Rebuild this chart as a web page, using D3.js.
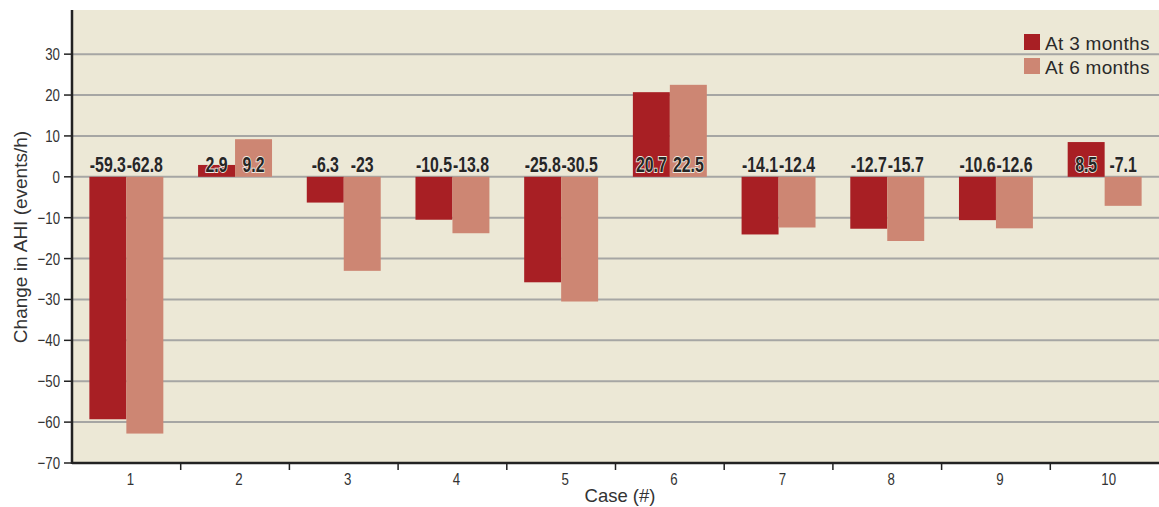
<!DOCTYPE html>
<html>
<head>
<meta charset="utf-8">
<script src="https://cdn.jsdelivr.net/npm/d3@7"></script>
<style>
  html, body { margin: 0; padding: 0; background: #ffffff; }
  svg { display: block; }
</style>
</head>
<body>
<svg id="chart" width="1159" height="507"></svg>
<script>
// Change in AHI per case, measured at 3 and 6 months
const cases = ["1", "2", "3", "4", "5", "6", "7", "8", "9", "10"];
const at3Months = [-59.3, 2.9, -6.3, -10.5, -25.8, 20.7, -14.1, -12.7, -10.6, 8.5];
const at6Months = [-62.8, 9.2, -23, -13.8, -30.5, 22.5, -12.4, -15.7, -12.6, -7.1];
const seriesNames = ["At 3 months", "At 6 months"];
const yTicks = [-70, -60, -50, -40, -30, -20, -10, 0, 10, 20, 30];

const colors = ["#a81f24", "#cd8673"];
const W = 1159, H = 507;
const margin = { top: 10, right: 0, bottom: 44, left: 72 };
const svg = d3.select("#chart");

const x = d3.scaleBand().domain(cases).range([margin.left, W - margin.right]).paddingInner(0).paddingOuter(0);
const xInner = d3.scaleBand().domain(seriesNames).range([0, x.bandwidth()]).paddingInner(0).paddingOuter(0.47);
const y = d3.scaleLinear().domain([-70, 40.8]).range([H - margin.bottom, margin.top]);

const sans = "'Liberation Sans', Arial, sans-serif";
const narrow = 0.78; // horizontal squeeze for the condensed tick labels

// plot background
svg.append("rect")
  .attr("x", margin.left).attr("y", margin.top)
  .attr("width", W - margin.right - margin.left)
  .attr("height", H - margin.bottom - margin.top)
  .attr("fill", "#ece8d6");

// horizontal gridlines
svg.append("g").selectAll("line")
  .data(yTicks.filter(d => d !== -70))
  .join("line")
  .attr("x1", margin.left).attr("x2", W - margin.right)
  .attr("y1", d => y(d)).attr("y2", d => y(d))
  .attr("stroke", "#a6a6a4").attr("stroke-width", 2);

// bars
const rows = cases.map((c, i) => ({ c, vals: [at3Months[i], at6Months[i]] }));
const groups = svg.append("g").selectAll("g")
  .data(rows).join("g")
  .attr("transform", d => `translate(${x(d.c)},0)`);

groups.selectAll("rect")
  .data(d => d.vals.map((v, k) => ({ v, k })))
  .join("rect")
  .attr("x", d => xInner(seriesNames[d.k]))
  .attr("width", xInner.bandwidth())
  .attr("y", d => y(Math.max(0, d.v)))
  .attr("height", d => Math.abs(y(d.v) - y(0)))
  .attr("fill", d => colors[d.k]);

// value labels just above the zero line
groups.selectAll("text")
  .data(d => d.vals.map((v, k) => ({ v, k })))
  .join("text")
  .attr("transform", d => `translate(${xInner(seriesNames[d.k]) + xInner.bandwidth() / 2},${y(0) - 5}) scale(0.72,1)`)
  .attr("text-anchor", "middle")
  .attr("font-family", sans)
  .attr("font-weight", "bold")
  .attr("font-size", 22)
  .attr("fill", "#262626")
  .attr("stroke", "#eeeae0")
  .attr("stroke-width", 1.8)
  .attr("paint-order", "stroke")
  .text(d => String(d.v));

// y axis ticks and labels
svg.append("g").selectAll("line")
  .data(yTicks)
  .join("line")
  .attr("x1", margin.left - 8).attr("x2", margin.left)
  .attr("y1", d => y(d)).attr("y2", d => y(d))
  .attr("stroke", "#222").attr("stroke-width", 1.5);
svg.append("g").selectAll("text")
  .data(yTicks)
  .join("text")
  .attr("transform", d => `translate(${margin.left - 12},${y(d) + 6}) scale(${narrow},1)`)
  .attr("text-anchor", "end")
  .attr("font-family", sans)
  .attr("font-size", 17)
  .attr("fill", "#333")
  .text(d => d < 0 ? "\u2212" + Math.abs(d) : String(d));
svg.append("line")
  .attr("x1", margin.left).attr("x2", margin.left)
  .attr("y1", margin.top).attr("y2", y(-70) + 1)
  .attr("stroke", "#222").attr("stroke-width", 2.5);

// x axis
svg.append("line")
  .attr("x1", margin.left).attr("x2", W - margin.right)
  .attr("y1", y(-70)).attr("y2", y(-70))
  .attr("stroke", "#222").attr("stroke-width", 2.5);
svg.append("g").selectAll("line")
  .data(cases.slice(1))
  .join("line")
  .attr("x1", d => x(d)).attr("x2", d => x(d))
  .attr("y1", y(-70)).attr("y2", y(-70) + 7)
  .attr("stroke", "#222").attr("stroke-width", 1.5);
svg.append("g").selectAll("text")
  .data(cases)
  .join("text")
  .attr("transform", d => `translate(${x(d) + x.bandwidth() / 2 + 4},${y(-70) + 22}) scale(${narrow},1)`)
  .attr("text-anchor", "middle")
  .attr("font-family", sans)
  .attr("font-size", 17)
  .attr("fill", "#333")
  .text(d => d);

// axis titles
svg.append("text")
  .attr("x", 620).attr("y", 502)
  .attr("text-anchor", "middle")
  .attr("font-family", sans)
  .attr("font-size", 18.5)
  .attr("fill", "#333")
  .text("Case (#)");
svg.append("text")
  .attr("transform", "translate(27,237) rotate(-90)")
  .attr("text-anchor", "middle")
  .attr("font-family", sans)
  .attr("font-size", 19)
  .attr("fill", "#333")
  .text("Change in AHI (events/h)");

// legend
const legend = svg.append("g").attr("transform", "translate(1024,34)");
seriesNames.forEach((name, i) => {
  const g = legend.append("g").attr("transform", `translate(0,${i * 24})`);
  g.append("rect").attr("width", 16).attr("height", 16).attr("fill", colors[i]);
  g.append("text")
    .attr("x", 21).attr("y", 15.5)
    .attr("font-family", sans)
    .attr("font-size", 19)
    .attr("letter-spacing", 0.3)
    .attr("fill", "#2a2a2a")
    .text(name);
});
</script>
</body>
</html>
